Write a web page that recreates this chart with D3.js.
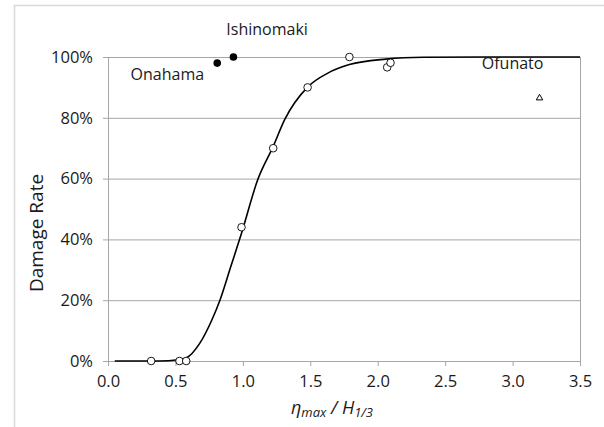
<!DOCTYPE html>
<html>
<head>
<meta charset="utf-8">
<script src="https://cdn.jsdelivr.net/npm/d3@7"></script>
<style>
  body { margin: 0; background: #fff; }
  svg text { font-family: "Open Sans", sans-serif; fill: #1a1a1a; }
</style>
</head>
<body>
<div id="chart"></div>
<script>
// observed points (ratio, damage %)
var openPts = [[0.32, 0], [0.53, 0], [0.58, 0], [0.99, 44], [1.225, 70],
               [1.48, 90], [1.79, 100], [2.07, 96.6], [2.095, 98.1]];
var filledPts = [[0.81, 98], [0.93, 100]];
var trianglePts = [[3.2, 86.5]];

// fitted curve
var curveX = [0.05, 0.3, 0.45, 0.52, 0.58, 0.68, 0.77, 0.83, 0.91, 0.99, 1.11, 1.225, 1.31, 1.48, 1.63, 1.79, 2.06, 2.34, 2.8, 3.5];
var curveY = [0, 0, 0.1, 0.4, 1.0, 5.8, 13.5, 20, 31, 42, 59.6, 70.6, 79.4, 90.1, 94.7, 97.5, 99.3, 99.9, 100, 100];

var labels = [
  {text: "Ishinomaki", x: 1.18, y: 109.2},
  {text: "Onahama", x: 0.44, y: 94.2},
  {text: "Ofunato", x: 3.0, y: 98}
];

var xTicks = [0, 0.5, 1, 1.5, 2, 2.5, 3, 3.5];
var yTicks = [0, 20, 40, 60, 80, 100];

var W = 604, H = 427;
var margin = {top: 57, right: 24, bottom: 66, left: 108};
var width = W - margin.left - margin.right,
    height = H - margin.top - margin.bottom;

var svg = d3.select("#chart").append("svg")
  .attr("width", W).attr("height", H);

// outer chart frame
svg.append("rect")
  .attr("x", 14.5).attr("y", 5.5)
  .attr("width", W + 10).attr("height", H + 10)
  .style("fill", "none").style("stroke", "#d9d9d9").style("stroke-width", 1.5);

var g = svg.append("g")
  .attr("transform", "translate(" + margin.left + "," + margin.top + ")");

var x = d3.scaleLinear().domain([0, 3.5]).range([0, width]);
var y = d3.scaleLinear().domain([0, 100]).range([height, 0]);

// gridlines
g.selectAll(".grid").data(yTicks).enter().append("line")
  .attr("x1", 0).attr("x2", width)
  .attr("y1", function(d) { return y(d) + 0.5; })
  .attr("y2", function(d) { return y(d) + 0.5; })
  .style("stroke", "#a6a6a6").style("stroke-width", 1);

// right border of plot
g.append("line")
  .attr("x1", width + 0.5).attr("x2", width + 0.5)
  .attr("y1", 0).attr("y2", height)
  .style("stroke", "#a6a6a6");

// axes
var xAxis = g.append("g")
  .attr("transform", "translate(0," + height + ")")
  .call(d3.axisBottom(x).tickValues(xTicks).tickFormat(d3.format(".1f")).tickSize(5).tickPadding(9));
var yAxis = g.append("g")
  .call(d3.axisLeft(y).tickValues(yTicks).tickFormat(function(d) { return d + "%"; }).tickSize(5).tickPadding(10));

[xAxis, yAxis].forEach(function(a) {
  a.select(".domain").style("stroke", "#a6a6a6");
  a.selectAll(".tick line").style("stroke", "#a6a6a6");
  a.selectAll(".tick text").style("font-size", "16.5px").style("fill", "#1a1a1a")
    .style("font-family", "'Open Sans', sans-serif");
});

// fitted curve
var line = d3.line()
  .x(function(d) { return x(d[0]); })
  .y(function(d) { return y(d[1]); })
  .curve(d3.curveMonotoneX);
g.append("path")
  .datum(curveX.map(function(v, i) { return [v, curveY[i]]; }))
  .attr("d", line)
  .style("fill", "none").style("stroke", "#000").style("stroke-width", 1.6);

// points
g.selectAll(".open").data(openPts).enter().append("circle")
  .attr("cx", function(d) { return x(d[0]); })
  .attr("cy", function(d) { return y(d[1]); })
  .attr("r", 3.8)
  .style("fill", "#fff").style("stroke", "#000").style("stroke-width", 0.9);

g.selectAll(".filled").data(filledPts).enter().append("circle")
  .attr("cx", function(d) { return x(d[0]); })
  .attr("cy", function(d) { return y(d[1]); })
  .attr("r", 3.8)
  .style("fill", "#000");

g.selectAll(".tri").data(trianglePts).enter().append("path")
  .attr("transform", function(d) { return "translate(" + x(d[0]) + "," + y(d[1]) + ")"; })
  .attr("d", d3.symbol().type(d3.symbolTriangle).size(18))
  .style("fill", "#fff").style("stroke", "#000").style("stroke-width", 1);

// site labels
g.selectAll(".lbl").data(labels).enter().append("text")
  .attr("x", function(d) { return x(d.x); })
  .attr("y", function(d) { return y(d.y); })
  .attr("text-anchor", "middle")
  .attr("dy", "0.35em")
  .style("font-size", "16px")
  .text(function(d) { return d.text; });

// y axis title
svg.append("text")
  .attr("transform", "translate(43," + (margin.top + 176) + ") rotate(-90)")
  .attr("text-anchor", "middle")
  .style("font-size", "19px")
  .text("Damage Rate");

// x axis title
var xt = svg.append("text")
  .attr("x", 332)
  .attr("y", 414)
  .attr("text-anchor", "middle")
  .style("font-size", "18px")
  .style("font-style", "italic");
xt.append("tspan").text("η");
xt.append("tspan").attr("dy", 3).style("font-size", "13px").text("max");
xt.append("tspan").attr("dy", -3).text(" / H");
xt.append("tspan").attr("dy", 3).style("font-size", "13px").text("1/3");
</script>
</body>
</html>
